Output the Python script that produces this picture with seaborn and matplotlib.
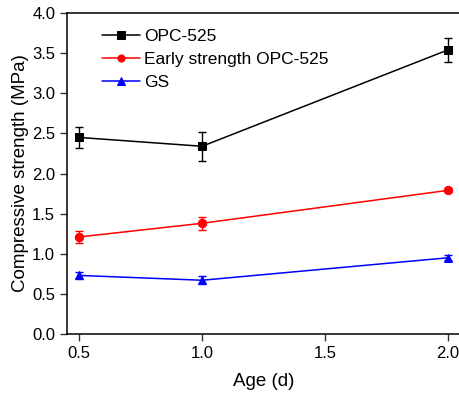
import matplotlib
matplotlib.use("Agg")
import matplotlib.pyplot as plt
import pandas as pd
import seaborn as sns

age = [0.5, 1.0, 2.0]
opc = [2.45, 2.34, 3.54]
opc_err = [0.13, 0.18, 0.15]
early = [1.21, 1.38, 1.79]
early_err = [0.07, 0.08, 0.02]
gs = [0.73, 0.67, 0.95]
gs_err = [0.04, 0.05, 0.03]

series = [
    ("OPC-525", opc, opc_err, "black", "s"),
    ("Early strength OPC-525", early, early_err, "red", "o"),
    ("GS", gs, gs_err, "blue", "^"),
]

sns.set_theme(style="ticks")
plt.rcParams["font.family"] = ["Liberation Sans", "DejaVu Sans"]
plt.rcParams["text.color"] = "black"
plt.rcParams["axes.labelcolor"] = "black"
plt.rcParams["xtick.color"] = "black"
plt.rcParams["ytick.color"] = "black"

fig = plt.figure(figsize=(4.6, 3.97), dpi=100)
ax = fig.add_axes([0.1457, 0.1587, 0.8543, 0.8083])

for name, vals, err, color, marker in series:
    df = pd.DataFrame({"age": age, "strength": vals})
    ax.errorbar(age, vals, yerr=err, fmt="none", ecolor=color, elinewidth=1,
                capsize=3, capthick=1, zorder=2)
    sns.lineplot(data=df, x="age", y="strength", color=color, marker=marker,
                 markersize=6, markeredgecolor=color, linewidth=1.1,
                 label=name, ax=ax, zorder=3)

ax.set_xlim(0.45, 2.05)
ax.set_ylim(0, 4.0)
ax.set_xticks([0.5, 1.0, 1.5, 2.0])
ax.set_yticks([0, 0.5, 1.0, 1.5, 2.0, 2.5, 3.0, 3.5, 4.0])
ax.set_xlabel("Age (d)", fontsize=13.5, labelpad=9)
ax.set_ylabel("Compressive strength (MPa)", fontsize=13.5, labelpad=2)
ax.tick_params(direction="out", length=5, width=1, labelsize=12, color="#333333")
ax.spines["right"].set_visible(False)
for s in ["left", "bottom", "top"]:
    ax.spines[s].set_linewidth(1.1)
    ax.spines[s].set_color("black")

ax.legend(loc="upper left", frameon=False, fontsize=12.5, handlelength=2.2,
          handletextpad=0.2, labelspacing=0.45, markerscale=0.85,
          bbox_to_anchor=(0.05, 1.0))

fig.savefig("out.png", dpi=100)
